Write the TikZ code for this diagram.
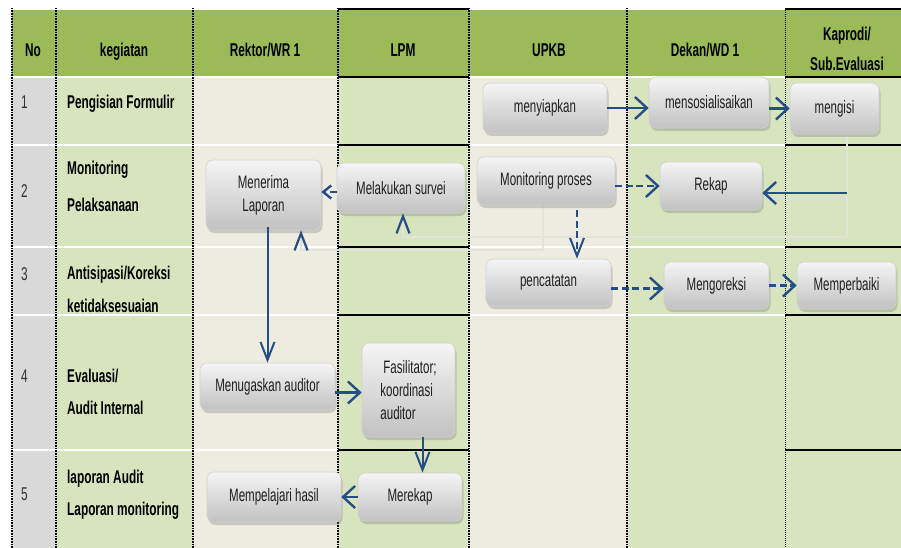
\documentclass[tikz,border=0pt]{standalone}
\usepackage{fontspec}
\setmainfont{Liberation Sans}[FakeStretch=0.64]
\usepackage{tikz}
\usetikzlibrary{arrows.meta,backgrounds,calc,shadows}

\definecolor{headgreen}{RGB}{155,187,89}
\definecolor{actgreen}{RGB}{215,228,189}
\definecolor{nogray}{RGB}{217,217,217}
\definecolor{beige}{RGB}{238,236,225}
\definecolor{arrowblue}{RGB}{38,78,134}
\definecolor{faint}{RGB}{226,228,218}

\pgfdeclarelayer{cells}
\pgfsetlayers{cells,background,main}

\tikzset{
  head/.style={inner sep=0pt, anchor=base, font=\fontsize{18.5}{22}\selectfont\bfseries},
  act/.style={inner sep=0pt, anchor=base west, font=\fontsize{18.5}{22}\selectfont\bfseries},
  num/.style={inner sep=0pt, anchor=base west, text=black!80, font=\fontsize{18.5}{22}\selectfont},
  box/.style={rounded corners=7pt, draw=black!18, line width=0.6pt,
    top color=black!4, bottom color=black!24,
    drop shadow={shadow xshift=1.5pt, shadow yshift=-3pt, opacity=0.35},
    text=black!88, font=\fontsize{18}{23}\selectfont, align=center, inner sep=0pt},
  flow/.style={draw=arrowblue, line width=2.4pt},
  dashflow/.style={flow, dash pattern=on 7pt off 3.5pt},
  htip/.style={-{Straight Barb[length=12pt,width=22pt]}},
  vtip/.style={-{Straight Barb[length=18pt,width=14pt]}},
  smalltip/.style={-{Straight Barb[length=8pt,width=13pt]}},
  faintline/.style={draw=faint, line width=1.2pt},
  uptip/.style={-{Straight Barb[length=17pt,width=13pt,color=arrowblue,line width=2.2pt]}},
  rowwhite/.style={draw=white, line width=1.5pt},
  rowblack/.style={draw=black, line width=1.6pt},
  coldots/.style={draw=black, line width=1.6pt, dash pattern=on 1pt off 0.6pt},
  thindots/.style={draw=black, line width=0.8pt, dash pattern=on 1pt off 1pt}
}

\begin{document}
\begin{tikzpicture}[x=1pt,y=-1pt]
\useasboundingbox (0,0) rectangle (901,548);

% table
\begin{pgfonlayer}{cells}
\fill[white] (0,0) rectangle (901,548);
\fill[headgreen] (12,10) rectangle (901,77);
\foreach \xa/\xb/\col in {12/56/nogray, 56/193/actgreen, 193/338/beige, 338/469/actgreen,
  469/627/beige, 627/785/actgreen, 785/901/actgreen}
  \fill[\col] (\xa,77) rectangle (\xb,548);
\foreach \y in {77,145,247,315,450}{
  \draw[rowwhite] (12,\y) -- (338,\y);
  \draw[rowblack] (338,\y) -- (469,\y);
  \draw[rowblack] (785,\y) -- (901,\y);
}
\foreach \y in {77,145,247,315}
  \draw[rowwhite] (469,\y) -- (785,\y);
\draw[rowblack] (338,9) -- (469,9);
\draw[rowblack] (785,9) -- (901,9);
\foreach \x in {12,56,193,338,469,627}
  \draw[coldots] (\x,8) -- (\x,548);
\draw[thindots] (785,8) -- (785,548);
\end{pgfonlayer}

% headers
\node[head] (hNo) at (33,57) {No};
\node[head] (hKeg) at (124,57) {kegiatan};
\node[head] (hRek) at (265,57) {Rektor/WR 1};
\node[head] (hLpm) at (403,57) {LPM};
\node[head] (hUpkb) at (549,57) {UPKB};
\node[head] (hDek) at (705,57) {Dekan/WD 1};
\node[head] (hKap) at (847,41) {Kaprodi/};
\node[head] (hSub) at (847,71) {Sub.Evaluasi};

% rows
\node[num] (n1) at (21,109) {1};
\node[num] (n2) at (21,197) {2};
\node[num] (n3) at (21,280) {3};
\node[num] (n4) at (21,382) {4};
\node[num] (n5) at (21,500) {5};
\node[act] (a1) at (67,109) {Pengisian Formulir};
\node[act] (a2a) at (67,175) {Monitoring};
\node[act] (a2b) at (67,211) {Pelaksanaan};
\node[act] (a3a) at (67,279) {Antisipasi/Koreksi};
\node[act] (a3b) at (67,312) {ketidaksesuaian};
\node[act] (a4a) at (67,382) {Evaluasi/};
\node[act] (a4b) at (67,414) {Audit Internal};
\node[act] (a5a) at (67,483) {laporan Audit};
\node[act] (a5b) at (67,515) {Laporan monitoring};

% boxes
\node[box, minimum width=124pt, minimum height=50pt] (menyiapkan) at (545,108) {menyiapkan};
\node[box, minimum width=120pt, minimum height=51pt] (mensos) at (709,102.5) {mensosialisaikan};
\node[box, minimum width=89pt, minimum height=51pt] (mengisi) at (834.5,108.5) {mengisi};
\node[box, minimum width=115pt, minimum height=70pt] (menerima) at (263.5,195) {Menerima\\Laporan};
\node[box, minimum width=128pt, minimum height=50pt] (survei) at (401,188) {Melakukan survei};
\node[box, minimum width=138pt, minimum height=48pt] (mon) at (546,181) {Monitoring proses};
\node[box, minimum width=102pt, minimum height=48pt] (rekap) at (711,186) {Rekap};
\node[box, minimum width=125pt, minimum height=47pt] (penc) at (548.5,282.5) {pencatatan};
\node[box, minimum width=105pt, minimum height=47pt] (koreksi) at (716.5,285.5) {Mengoreksi};
\node[box, minimum width=99pt, minimum height=47pt] (perbaiki) at (846.5,285.5) {Memperbaiki};
\node[box, minimum width=135pt, minimum height=47pt] (menugaskan) at (267.5,386.5) {Menugaskan auditor};
\node[box, minimum width=93pt, minimum height=94pt, align=left] (fasil) at (408.5,390) {\,Fasilitator;\\koordinasi\\auditor};
\node[box, minimum width=104pt, minimum height=48pt] (merekap) at (410,497) {Merekap};
\node[box, minimum width=134pt, minimum height=50pt] (pelajari) at (274,497) {Mempelajari hasil};

% faint connectors
\coordinate (hubA) at (543,237);
\coordinate (hubB) at (847,237);
\coordinate (hubC) at (301,250);
\coordinate (kapin) at (847,193);
\begin{pgfonlayer}{background}
\draw[faintline] (hubB |- mengisi.south) -- (hubB) -- (hubA) -- (hubA |- mon.south);
\end{pgfonlayer}
\draw[faintline, uptip] (hubA) -| ([xshift=2pt]survei.south);
\draw[faintline, uptip] (hubA) -- (hubA |- hubC) -- (hubC) -- (hubC |- menerima.south);

% arrows
\draw[flow, htip] (menyiapkan.east) -- (menyiapkan.east -| mensos.west);
\draw[flow, htip] (mengisi.west -| mensos.east) -- (mengisi.west);
\draw[dashflow, smalltip] ([yshift=-4pt]survei.west) -- ([yshift=-4pt]survei.west -| menerima.east);
\draw[dashflow, htip] (mon.east |- rekap.west) -- (rekap.west);
\draw[flow, htip] (kapin) -- (kapin -| rekap.east);
\draw[dashflow, vtip, line width=2pt] ([xshift=31pt,yshift=-5pt]mon.south) -- ([xshift=31pt]mon.south |- penc.north);
\draw[dashflow, htip] ([yshift=-3pt]koreksi.west -| penc.east) -- ([yshift=-3pt]koreksi.west);
\draw[dashflow, htip] (koreksi.east) -- (koreksi.east -| perbaiki.west);
\draw[flow, vtip, line width=2pt] ([yshift=3pt]menugaskan.north |- menerima.south) -- (menugaskan.north);
\draw[flow, htip] ([yshift=-6pt]menugaskan.east) -- ([yshift=-6pt]menugaskan.east -| fasil.west);
\draw[flow, vtip, line width=2pt] ([xshift=14pt]fasil.south) -- ([xshift=14pt]fasil.south |- merekap.north);
\draw[flow, htip] (merekap.west) -- (merekap.west -| pelajari.east);
\end{tikzpicture}
\end{document}
